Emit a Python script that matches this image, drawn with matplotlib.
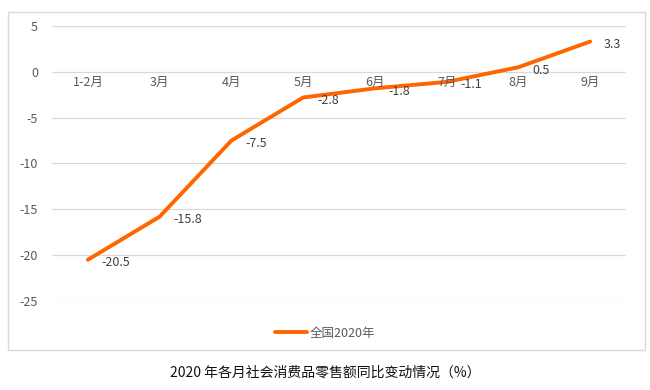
import matplotlib.pyplot as plt
from matplotlib.patches import Rectangle

plt.rcParams['font.family'] = ['Noto Sans CJK SC', 'DejaVu Sans']

months = ['1-2月', '3月', '4月', '5月', '6月', '7月', '8月', '9月']
values = [-20.5, -15.8, -7.5, -2.8, -1.8, -1.1, 0.5, 3.3]
yticks = [5, 0, -5, -10, -15, -20, -25]

grey = '#595959'
orange = '#FF6600'

fig = plt.figure(figsize=(6.5, 3.9), dpi=100)
ax = fig.add_axes([52 / 650, 1 - 301 / 390, (626 - 52) / 650, (301 - 26) / 390])

# chart box border
fig.patches.append(Rectangle((8 / 650, 1 - 350 / 390), 637 / 650, 338 / 390,
                             transform=fig.transFigure, fill=False,
                             edgecolor='#d9d9d9', linewidth=1))

x = list(range(len(months)))
line, = ax.plot(x, values, color=orange, linewidth=2.8, solid_capstyle='round',
                label='全国2020年')

for xi, v in zip(x, values):
    ax.annotate(f'{v:g}', (xi, v), xytext=(10, -2), textcoords='offset points',
                ha='left', va='center', fontsize=9, color='#404040')

ax.set_xlim(-0.5, len(months) - 0.5)
ax.set_ylim(-25, 5)
ax.set_yticks(yticks)
ax.set_yticklabels([str(t) for t in yticks])
ax.grid(axis='y', color='#d9d9d9', linewidth=0.9)
ax.set_axisbelow(True)
for s in ax.spines.values():
    s.set_visible(False)
ax.tick_params(axis='y', length=0, labelsize=9, labelcolor=grey, pad=10)
ax.set_xticks([])

# category labels sit just below the zero line
for xi, m in zip(x, months):
    ax.text(xi, -1.2, m, ha='center', va='center', fontsize=9, color=grey)

fig.legend(handles=[line], loc='center', bbox_to_anchor=(0.5, 1 - 333 / 390),
           frameon=False, fontsize=9, labelcolor=grey, handlelength=2.6,
           handletextpad=0.2)

fig.text(0.5, 1 - 373 / 390, '2020 年各月社会消费品零售额同比变动情况（%）',
         ha='center', va='center', fontsize=10, color='#111111')

fig.savefig('out.png', dpi=100)
